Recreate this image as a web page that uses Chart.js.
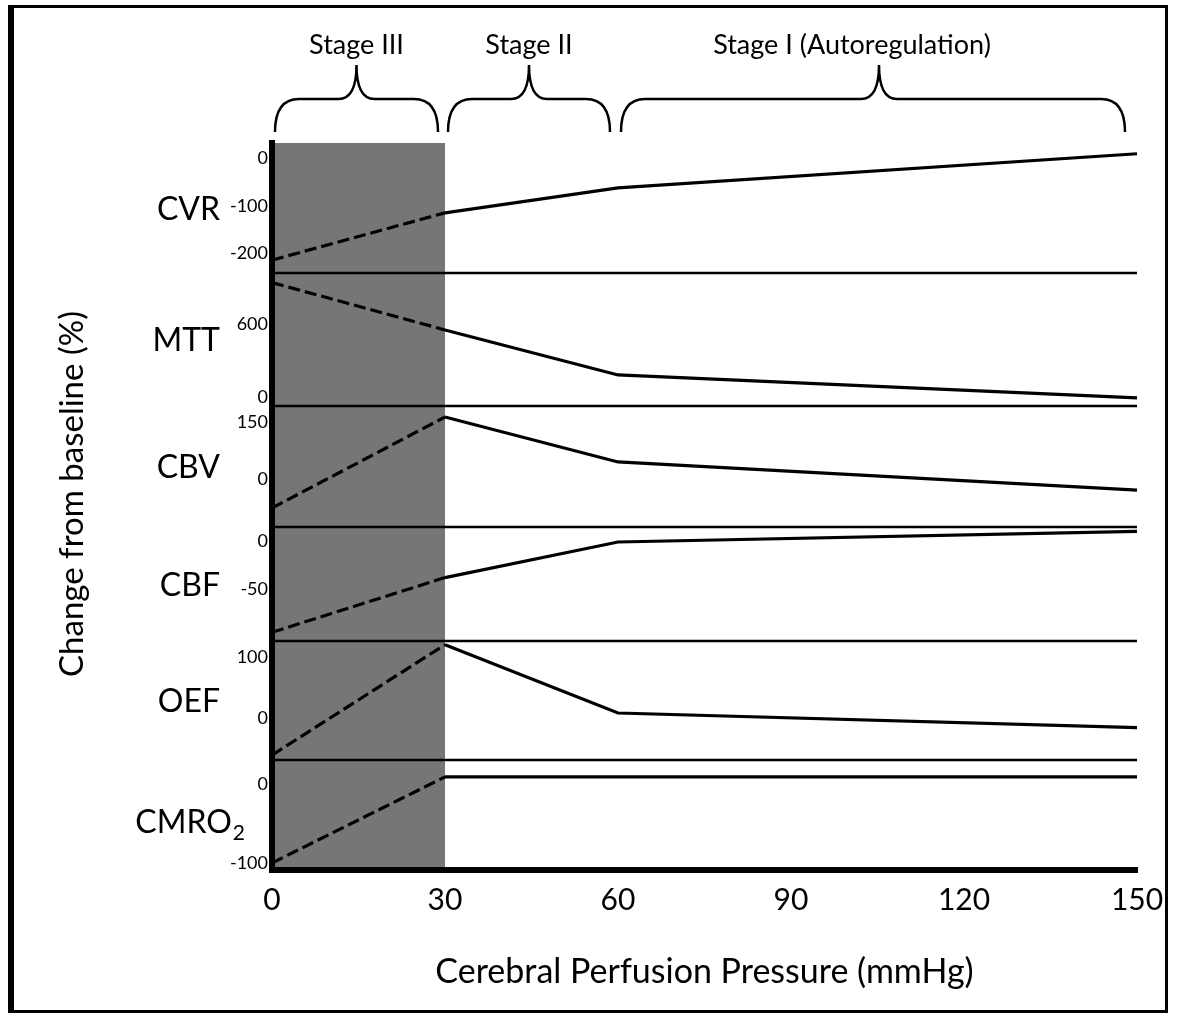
<!DOCTYPE html>
<html>
<head>
<meta charset="utf-8">
<title>Cerebral perfusion pressure stages</title>
<script src="https://cdn.jsdelivr.net/npm/chart.js@4.4.1/dist/chart.umd.min.js"></script>
<style>
  html, body { margin: 0; padding: 0; background: #fff; }
  #chartBox { width: 1177px; height: 1019px; }
</style>
</head>
<body>
<div id="chartBox"><canvas id="cppChart" width="1177" height="1019"></canvas></div>
<script>
/* ---------- data ---------- */
var pressure = [0, 30, 60, 150];
var xTicks = [0, 30, 60, 90, 120, 150];

var cvrValues  = [-215, -115, -62, 10];
var mttValues  = [940, 551, 181, -8];
var cbvValues  = [-76, 163, 45, -29];
var cbfValues  = [-95, -38, -1, 10];
var oefValues  = [-61, 120, 8, -16];
var cmroValues = [-100, 9, 9, 9];

var cvrTicks  = [0, -100, -200];
var mttTicks  = [600, 0];
var cbvTicks  = [150, 0];
var cbfTicks  = [0, -50];
var oefTicks  = [100, 0];
var cmroTicks = [0, -100];

var stageNames  = ['Stage III', 'Stage II', 'Stage I (Autoregulation)'];
var stageRanges = [[0, 30], [30, 60], [60, 150]];
var shadeRange  = [0, 30];

/* panels listed bottom -> top (Chart.js stacks left axes in reverse order) */
var panels = [
  { id: 'yCMRO', name: 'CMRO', sub: '2', values: cmroValues, ticks: cmroTicks, min: -108.9, max: 30.4, weight: 110 },
  { id: 'yOEF',  name: 'OEF',  values: oefValues,  ticks: oefTicks,  min: -69,    max: 126,  weight: 119 },
  { id: 'yCBF',  name: 'CBF',  values: cbfValues,  ticks: cbfTicks,  min: -104,   max: 14.6, weight: 114 },
  { id: 'yCBV',  name: 'CBV',  values: cbvValues,  ticks: cbvTicks,  min: -126,   max: 192,  weight: 121 },
  { id: 'yMTT',  name: 'MTT',  values: mttValues,  ticks: mttTicks,  min: -74,    max: 1019, weight: 133 },
  { id: 'yCVR',  name: 'CVR',  values: cvrValues,  ticks: cvrTicks,  min: -242.3, max: 32.8, weight: 130 }
];

var FONT = 'Lato';

function panelScale(p) {
  return {
    type: 'linear',
    position: 'left',
    stack: 'panels',
    stackWeight: p.weight,
    min: p.min,
    max: p.max,
    afterBuildTicks: function (scale) {
      scale.ticks = p.ticks.map(function (v) { return { value: v }; });
    },
    afterFit: function (scale) { scale.width = 120; },
    grid: { display: false, drawTicks: false },
    border: { display: true, color: '#000', width: 6 },
    ticks: { color: '#000', font: { family: FONT, size: 18 }, padding: 4, autoSkip: false }
  };
}

function drawBrace(c, xa, xb, xm, yb, yh, yt) {
  var r = 24, r2 = 18;
  c.beginPath();
  c.moveTo(xa, yb);
  c.quadraticCurveTo(xa, yh, xa + r, yh);
  c.lineTo(xm - r2, yh);
  c.quadraticCurveTo(xm, yh, xm, yt);
  c.quadraticCurveTo(xm, yh, xm + r2, yh);
  c.lineTo(xb - r, yh);
  c.quadraticCurveTo(xb, yh, xb, yb);
  c.stroke();
}

/* ---------- decorations: frame, shaded stage III, separators, labels ---------- */
var decor = {
  id: 'decor',
  beforeDraw: function (chart) {
    var c = chart.ctx;
    c.save();
    c.fillStyle = '#fff';
    c.fillRect(0, 0, chart.width, chart.height);
    c.fillStyle = '#000';
    c.fillRect(8, 5, 1160, 3);      // top
    c.fillRect(8, 1010, 1160, 3);   // bottom
    c.fillRect(8, 5, 6, 1008);      // left
    c.fillRect(1165, 5, 3, 1008);   // right
    c.restore();
  },
  beforeDatasetsDraw: function (chart) {
    var c = chart.ctx, a = chart.chartArea, xs = chart.scales.x;
    c.save();
    var x0 = xs.getPixelForValue(shadeRange[0]) + 3;
    var x1 = xs.getPixelForValue(shadeRange[1]);
    c.fillStyle = '#767676';
    c.fillRect(x0, a.top, x1 - x0, a.bottom - 3 - a.top);

    c.strokeStyle = '#000';
    c.lineWidth = 2.5;
    panels.forEach(function (p) {
      if (p.id === 'yCVR') return;
      var y = chart.scales[p.id].top;
      c.beginPath();
      c.moveTo(a.left, y);
      c.lineTo(a.right, y);
      c.stroke();
    });
    c.restore();
  },
  afterDraw: function (chart) {
    var c = chart.ctx, xs = chart.scales.x;
    c.save();
    c.fillStyle = '#000';
    c.strokeStyle = '#000';

    // braces + stage labels
    c.lineWidth = 2.5;
    var insetR = [7, 8, 12];
    var labelShift = [0, 0, -27];
    stageRanges.forEach(function (r, i) {
      var xa = xs.getPixelForValue(r[0]) + 3;
      var xb = xs.getPixelForValue(r[1]) - insetR[i];
      var xm = (xa + xb) / 2 + (i === 2 ? 6 : 0);
      drawBrace(c, xa, xb, xm, 132, 99, 65);
      c.font = '27px ' + FONT;
      c.textAlign = 'center';
      c.textBaseline = 'alphabetic';
      c.fillText(stageNames[i], xm + labelShift[i], 54);
    });

    // panel names (right-aligned against the tick labels)
    c.textAlign = 'right';
    c.textBaseline = 'alphabetic';
    panels.forEach(function (p) {
      var s = chart.scales[p.id];
      var cy = (s.top + s.bottom) / 2;
      if (p.sub) {
        c.font = '21px ' + FONT;
        var subW = c.measureText(p.sub).width;
        var base = cy + 6 + 11.5;
        c.fillText(p.sub, 245, base + 7);
        c.font = '32px ' + FONT;
        c.fillText(p.name, 245 - subW - 1, base);
      } else {
        c.font = '32px ' + FONT;
        c.fillText(p.name, 220, cy + 11.5);
      }
    });

    // overall y title
    c.translate(72, 494);
    c.rotate(-Math.PI / 2);
    c.font = '33px ' + FONT;
    c.textAlign = 'center';
    c.textBaseline = 'middle';
    c.fillText('Change from baseline (%)', 0, 0);
    c.restore();
  }
};

/* ---------- chart ---------- */
var scales = {
  x: {
    type: 'linear',
    position: 'bottom',
    min: 0,
    max: 150,
    afterBuildTicks: function (scale) {
      scale.ticks = xTicks.map(function (v) { return { value: v }; });
    },
    afterFit: function (scale) { scale.height = 149; },
    grid: { display: false, drawTicks: false },
    border: { display: true, color: '#000', width: 6 },
    ticks: { color: '#000', font: { family: FONT, size: 30 }, padding: 12, maxRotation: 0, autoSkip: false },
    title: {
      display: true,
      text: 'Cerebral Perfusion Pressure (mmHg)',
      color: '#000',
      font: { family: FONT, size: 34 },
      padding: { top: 0, bottom: 27 }
    }
  }
};
panels.forEach(function (p) { scales[p.id] = panelScale(p); });

var datasets = panels.map(function (p) {
  return {
    label: p.name + (p.sub || ''),
    yAxisID: p.id,
    data: pressure.map(function (x, i) { return { x: x, y: p.values[i] }; }),
    borderColor: '#000',
    borderWidth: 3.2,
    pointRadius: 0,
    tension: 0,
    fill: false,
    clip: false,
    segment: {
      borderDash: function (ctx) {
        return ctx.p1.parsed.x <= shadeRange[1] ? [12, 5] : undefined;
      }
    }
  };
});

new Chart(document.getElementById('cppChart'), {
  type: 'line',
  data: { datasets: datasets },
  options: {
    responsive: false,
    animation: false,
    devicePixelRatio: 1,
    layout: { padding: { left: 152, right: 40, top: 143, bottom: 0 } },
    plugins: { legend: { display: false }, tooltip: { enabled: false } },
    scales: scales
  },
  plugins: [decor]
});
</script>
</body>
</html>
